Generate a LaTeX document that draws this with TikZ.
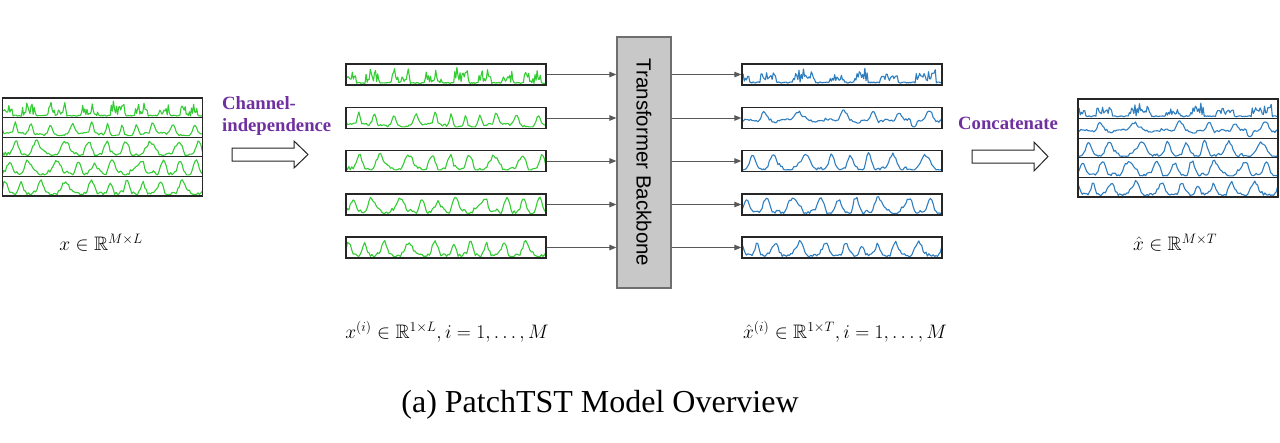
\RequirePackage{fix-cm}
\documentclass[tikz,border=0pt]{standalone}
\usepackage{amssymb}
\usepackage{fontspec}
\setmainfont{Liberation Serif}
\newfontfamily\arialf{Liberation Sans}
\usetikzlibrary{arrows.meta}
\definecolor{sgreen}{HTML}{33CC33}
\definecolor{sblue}{HTML}{2E7EC0}
\definecolor{ptext}{HTML}{7030A0}
\definecolor{tbfill}{HTML}{C8C8C8}
\definecolor{tbline}{HTML}{6E6E6E}
\definecolor{arrg}{HTML}{595959}

\newcommand{\clampy}[1]{min(0.9,max(0.08,#1))}
% peak train with frequency modulation: #1 freq, #2 phase, #3 mod amp, #4 mod rate (deg per unit)
\newcommand{\pk}[4]{(0.5001+0.4999*cos(\x*360*#1+#2+#3*sin(\x*#4)))}
% green signals
\newcommand{\sgA}{\pgfmathsetseed{7}\draw plot[domain=0:1,samples=190] (\x,{\clampy{0.1+0.03*rand+(sin(\x*2700+30+70*sin(\x*500))>-0.25)*(0.38+0.38*rand)*(0.6+0.4*rand)}});}
\newcommand{\sgB}{\pgfmathsetseed{21}\draw plot[domain=0:1,samples=140] (\x,{\clampy{0.15+0.55*\pk{11.5}{40}{90}{610}^6+0.06*rand+0.07*sin(\x*1080)}});}
\newcommand{\sgC}{\pgfmathsetseed{33}\draw plot[domain=0:1,samples=140] (\x,{\clampy{0.1+0.68*\pk{9}{100}{70}{700}^2.5+0.1*rand+0.06*sin(\x*5300)}});}
\newcommand{\sgD}{\pgfmathsetseed{45}\draw plot[domain=0:1,samples=140] (\x,{\clampy{0.12+0.62*\pk{9.5}{200}{80}{820}^2+0.1*rand+0.08*sin(\x*6840)}});}
\newcommand{\sgE}{\pgfmathsetseed{57}\draw plot[domain=0:1,samples=140] (\x,{\clampy{0.12+0.6*\pk{10}{300}{100}{560}^3+0.11*rand+0.06*sin(\x*2500)}});}
% blue signals
\newcommand{\sbA}{\pgfmathsetseed{71}\draw plot[domain=0:1,samples=180] (\x,{\clampy{0.12+0.03*rand+(sin(\x*2400+80+60*sin(\x*640))>-0.2)*(0.42+0.3*rand)*(0.65+0.35*rand)}});}
\newcommand{\sbB}{\pgfmathsetseed{83}\draw plot[domain=0:1,samples=140] (\x,{\clampy{0.38+0.45*\pk{6}{60}{80}{500}^8+0.07*rand+0.06*sin(\x*3600)-0.55*max(0,1-abs(\x-0.857)/0.018)}});}
\newcommand{\sbC}{\pgfmathsetseed{95}\draw plot[domain=0:1,samples=140] (\x,{\clampy{0.1+0.7*\pk{8.5}{150}{90}{650}^2.5+0.08*rand+0.05*sin(\x*5800)}});}
\newcommand{\sbD}{\pgfmathsetseed{107}\draw plot[domain=0:1,samples=140] (\x,{\clampy{0.1+0.68*\pk{9}{250}{80}{720}^2+0.08*rand+0.07*sin(\x*6500)}});}
\newcommand{\sbE}{\pgfmathsetseed{119}\draw plot[domain=0:1,samples=140] (\x,{\clampy{0.14+0.55*\pk{10}{20}{100}{580}^3+0.09*rand+0.07*sin(\x*2900)}});}

% #1 x left, #2 y bottom, #3 width, #4 height, #5 style, #6 signal
\newcommand{\putsig}[6]{\begin{scope}[shift={(#1,#2)},xscale=#3,yscale=-#4,#5]#6\end{scope}}

\begin{document}
\begin{tikzpicture}[x=1pt,y=-1pt,
  gsig/.style={draw=sgreen,line width=1.1pt,line join=round},
  bsig/.style={draw=sblue,line width=1.1pt,line join=round},
  sigbox/.style={draw=black!85,line width=1.3pt,minimum width=200pt,minimum height=21pt,inner sep=0pt},
  stackbox/.style={draw=black!85,line width=1.3pt,minimum width=200pt,minimum height=98pt,inner sep=0pt},
  rowline/.style={draw=black!85,line width=1.3pt},
  arr/.style={draw=arrg,line width=1pt,-{Triangle[length=7pt,width=5.5pt]}},
  hollow/.style={draw=black!85,line width=1pt,fill=white,line join=miter},
  ptxt/.style={text=ptext,font=\bfseries\fontsize{18.7}{23}\selectfont,align=left,inner sep=0pt},
  mlab/.style={font=\fontsize{19.5}{23}\selectfont,inner sep=0pt},
  tbox/.style={draw=tbline,fill=tbfill,line width=1.2pt,minimum width=54pt,minimum height=251pt,inner sep=0pt},
  tbtxt/.style={font=\arialf\fontsize{20.5}{24}\selectfont,rotate=-90,inner sep=0pt},
  captxt/.style={font=\fontsize{32}{36}\selectfont,inner sep=0pt}]
\useasboundingbox (0,0) rectangle (1280,442);

% left stacked input
\putsig{2.5}{117.6}{200}{19.6}{gsig}{\sgA}
\putsig{2.5}{137.2}{200}{19.6}{gsig}{\sgB}
\putsig{2.5}{156.8}{200}{19.6}{gsig}{\sgC}
\putsig{2.5}{176.4}{200}{19.6}{gsig}{\sgD}
\putsig{2.5}{196}{200}{19.6}{gsig}{\sgE}
\node[stackbox] (L) at (102.5,147) {};
\draw[rowline] (2.5,117.6) -- (202.5,117.6);
\draw[rowline] (2.5,137.2) -- (202.5,137.2);
\draw[rowline] (2.5,156.8) -- (202.5,156.8);
\draw[rowline] (2.5,176.4) -- (202.5,176.4);

% channel independence
\node[ptxt,anchor=west] (ci) at (222,116) {Channel-\\independence};
\draw[hollow] (232,148) -- (294,148) -- (294,141) -- (308,154.5) -- (294,168) -- (294,161) -- (232,161) -- cycle;

% green channel boxes
\putsig{346}{85}{200}{21}{gsig}{\sgA}
\putsig{346}{128.5}{200}{21}{gsig}{\sgB}
\putsig{346}{171.5}{200}{21}{gsig}{\sgC}
\putsig{346}{215}{200}{21}{gsig}{\sgD}
\putsig{346}{258}{200}{21}{gsig}{\sgE}
\node[sigbox] (g1) at (446,74.5) {};
\node[sigbox] (g2) at (446,118) {};
\node[sigbox] (g3) at (446,161) {};
\node[sigbox] (g4) at (446,204.5) {};
\node[sigbox] (g5) at (446,247.5) {};

% transformer
\node[tbox] (tb) at (644,162.5) {};
\node[tbtxt] (tbt) at (tb.center) {Transformer Backbone};

% blue output boxes
\putsig{742}{85}{200}{21}{bsig}{\sbA}
\putsig{742}{128.5}{200}{21}{bsig}{\sbB}
\putsig{742}{171.5}{200}{21}{bsig}{\sbC}
\putsig{742}{215}{200}{21}{bsig}{\sbD}
\putsig{742}{258}{200}{21}{bsig}{\sbE}
\node[sigbox] (b1) at (842,74.5) {};
\node[sigbox] (b2) at (842,118) {};
\node[sigbox] (b3) at (842,161) {};
\node[sigbox] (b4) at (842,204.5) {};
\node[sigbox] (b5) at (842,247.5) {};

\foreach \i in {1,...,5}{
  \draw[arr] (g\i.east) -- (g\i.east -| tb.west);
  \draw[arr] (b\i.west -| tb.east) -- (b\i.west);
}

% concatenate
\node[ptxt,anchor=west] (cc) at (958,123) {Concatenate};
\draw[hollow] (972,150) -- (1034,150) -- (1034,142) -- (1048,156.5) -- (1034,171) -- (1034,163) -- (972,163) -- cycle;

% right stacked output
\putsig{1078}{118.6}{200}{19.6}{bsig}{\sbA}
\putsig{1078}{138.2}{200}{19.6}{bsig}{\sbB}
\putsig{1078}{157.8}{200}{19.6}{bsig}{\sbC}
\putsig{1078}{177.4}{200}{19.6}{bsig}{\sbD}
\putsig{1078}{197}{200}{19.6}{bsig}{\sbE}
\node[stackbox] (R) at (1178,148) {};
\draw[rowline] (1078,118.6) -- (1278,118.6);
\draw[rowline] (1078,138.2) -- (1278,138.2);
\draw[rowline] (1078,157.8) -- (1278,157.8);
\draw[rowline] (1078,177.4) -- (1278,177.4);

% labels
\node[mlab] (lx) at (101,243) {$x \in \mathbb{R}^{M\times L}$};
\node[mlab] (lxh) at (1175,243) {$\hat{x} \in \mathbb{R}^{M\times T}$};
\node[mlab] (lxi) at (447,332) {$x^{(i)} \in \mathbb{R}^{1\times L}, i = 1, \ldots, M$};
\node[mlab] (lxhi) at (845,332) {$\hat{x}^{(i)} \in \mathbb{R}^{1\times T}, i = 1, \ldots, M$};
\node[captxt] (capt) at (600,405) {(a) PatchTST Model Overview};
\end{tikzpicture}
\end{document}
